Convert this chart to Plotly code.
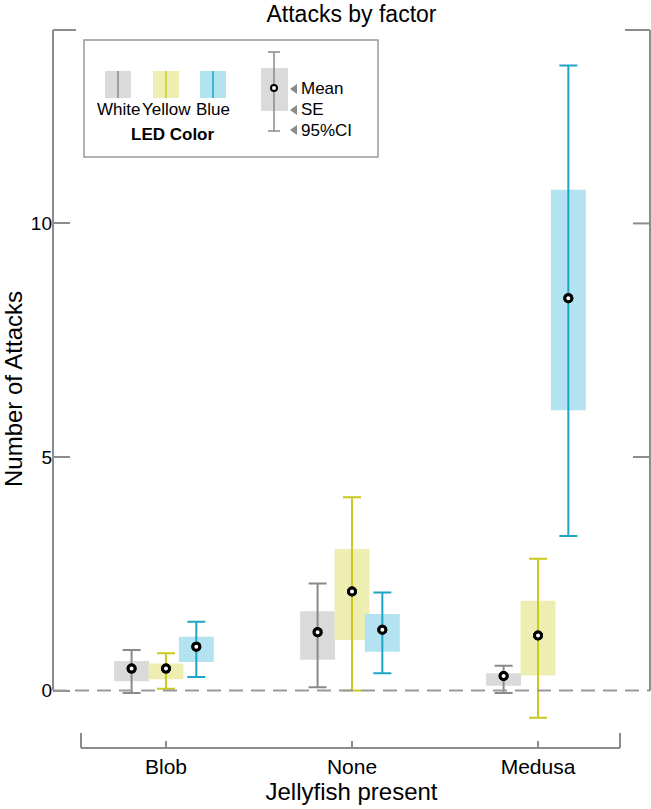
import plotly.graph_objects as go

# ---------------- data ----------------
categories = ["Blob", "None", "Medusa"]
colors_names = ["White", "Yellow", "Blue"]

mean_white = [0.47, 1.25, 0.31]
se_lo_white = [0.20, 0.66, 0.10]
se_hi_white = [0.63, 1.70, 0.37]
ci_lo_white = [-0.05, 0.07, -0.05]
ci_hi_white = [0.87, 2.29, 0.53]

mean_yellow = [0.47, 2.12, 1.18]
se_lo_yellow = [0.24, 1.08, 0.32]
se_hi_yellow = [0.58, 3.03, 1.92]
ci_lo_yellow = [0.04, 0.0, -0.58]
ci_hi_yellow = [0.80, 4.14, 2.82]

mean_blue = [0.94, 1.30, 8.40]
se_lo_blue = [0.61, 0.83, 6.00]
se_hi_blue = [1.15, 1.64, 10.72]
ci_lo_blue = [0.29, 0.37, 3.31]
ci_hi_blue = [1.47, 2.10, 13.38]

y_ticks = [0, 5, 10]

# ---------------- styles ----------------
FONT = "Liberation Sans, Arial, Helvetica, sans-serif"
FRAME = "#8c8c8c"
box_fill = {"White": "#dadada", "Yellow": "#eeeeb2", "Blue": "#b3e3f0"}
line_col = {"White": "#8a8a8a", "Yellow": "#c9c91e", "Blue": "#1ea4c4"}
offsets = {"White": -0.185, "Yellow": 0.0, "Blue": 0.163}
BOXW = 0.188

W, H = 651, 809
L, R, T, B = 53, 1, 30, 61
PW, PH = W - L - R, H - T - B
XR = [-0.6075, 2.602]
YR = [-1.23, 14.14]

def px(p):  # pixel x -> paper
    return (p - L) / PW

def py(p):  # pixel y -> paper
    return (H - B - p) / PH

def vy(v):  # data y -> paper
    return (v - YR[0]) / (YR[1] - YR[0])

series = {
    "White": (mean_white, se_lo_white, se_hi_white, ci_lo_white, ci_hi_white),
    "Yellow": (mean_yellow, se_lo_yellow, se_hi_yellow, ci_lo_yellow, ci_hi_yellow),
    "Blue": (mean_blue, se_lo_blue, se_hi_blue, ci_lo_blue, ci_hi_blue),
}

fig = go.Figure()

for name in colors_names:
    m, slo, shi, clo, chi = series[name]
    xs = [i + offsets[name] for i in range(len(categories))]
    fig.add_trace(go.Bar(
        x=xs, y=[h - l for h, l in zip(shi, slo)], base=slo, width=BOXW,
        marker=dict(color=box_fill[name], line=dict(width=0)),
        showlegend=False, hoverinfo="skip"))

for name in colors_names:
    m, slo, shi, clo, chi = series[name]
    xs = [i + offsets[name] for i in range(len(categories))]
    fig.add_trace(go.Scatter(
        x=xs, y=m, mode="markers",
        marker=dict(size=7, color="white", line=dict(color="black", width=3)),
        error_y=dict(type="data", symmetric=False,
                     array=[h - v for h, v in zip(chi, m)],
                     arrayminus=[v - l for v, l in zip(m, clo)],
                     color=line_col[name], thickness=2, width=9),
        showlegend=False))

for name in colors_names:
    m = series[name][0]
    xs = [i + offsets[name] for i in range(len(categories))]
    fig.add_trace(go.Scatter(
        x=xs, y=m, mode="markers",
        marker=dict(size=7, color="white", line=dict(color="black", width=3)),
        showlegend=False, hoverinfo="skip"))

shapes = []
shapes.append(dict(type="line", xref="paper", yref="paper", x0=0, x1=1, y0=vy(0), y1=vy(0),
                   line=dict(color="#999999", width=2, dash="14px,8px")))
for xp in (0, 1):
    shapes.append(dict(type="line", xref="paper", yref="paper", x0=xp, x1=xp, y0=vy(0), y1=1,
                       line=dict(color=FRAME, width=2)))
shapes.append(dict(type="line", xref="paper", yref="paper", x0=0, x1=px(76), y0=1, y1=1,
                   line=dict(color=FRAME, width=2)))
shapes.append(dict(type="line", xref="paper", yref="paper", x0=px(625), x1=1, y0=1, y1=1,
                   line=dict(color=FRAME, width=2)))
for t in y_ticks[1:]:
    shapes.append(dict(type="line", xref="paper", yref="paper", x0=px(633), x1=1,
                       y0=vy(t), y1=vy(t), line=dict(color=FRAME, width=2)))
shapes.append(dict(type="line", xref="paper", yref="paper", x0=px(81), x1=px(620), y0=0, y1=0,
                   line=dict(color=FRAME, width=2)))
for xx in (81, 620):
    shapes.append(dict(type="line", xref="paper", yref="paper", x0=px(xx), x1=px(xx),
                       y0=0, y1=py(733), line=dict(color=FRAME, width=2)))

# legend box
shapes.append(dict(type="rect", xref="paper", yref="paper", x0=px(84), x1=px(378),
                   y0=py(157), y1=py(40), line=dict(color="#999999", width=1.5),
                   fillcolor="white"))
annotations = []
for name, cx in zip(colors_names, [118, 166, 213]):
    shapes.append(dict(type="rect", xref="paper", yref="paper", x0=px(cx - 13), x1=px(cx + 13),
                       y0=py(98), y1=py(71), line=dict(width=0), fillcolor=box_fill[name]))
    shapes.append(dict(type="line", xref="paper", yref="paper", x0=px(cx), x1=px(cx),
                       y0=py(98), y1=py(71), line=dict(color=line_col[name], width=1.5)))
    annotations.append(dict(xref="paper", yref="paper", x=px(cx), y=py(110), text=name,
                            showarrow=False, font=dict(family=FONT, size=17, color="black"),
                            xanchor="center", yanchor="middle"))
annotations.append(dict(xref="paper", yref="paper", x=px(172), y=py(134), text="<b>LED Color</b>",
                        showarrow=False, font=dict(family=FONT, size=17, color="black"),
                        xanchor="center", yanchor="middle"))
shapes.append(dict(type="rect", xref="paper", yref="paper", x0=px(261), x1=px(288),
                   y0=py(111), y1=py(68), line=dict(width=0), fillcolor=box_fill["White"]))
shapes.append(dict(type="line", xref="paper", yref="paper", x0=px(274), x1=px(274),
                   y0=py(131), y1=py(52), line=dict(color=line_col["White"], width=1.5)))
for yy in (52, 131):
    shapes.append(dict(type="line", xref="paper", yref="paper", x0=px(268), x1=px(280),
                       y0=py(yy), y1=py(yy), line=dict(color=line_col["White"], width=1.5)))
shapes.append(dict(type="circle", xref="paper", yref="paper", x0=px(271), x1=px(277),
                   y0=py(91), y1=py(85), line=dict(color="black", width=2), fillcolor="white"))
for yy, txt in zip((89, 110, 130), ("Mean", "SE", "95%CI")):
    shapes.append(dict(type="path", xref="paper", yref="paper",
                       path=f"M {px(297)} {py(yy-5)} L {px(297)} {py(yy+5)} L {px(290)} {py(yy)} Z",
                       line=dict(width=0), fillcolor="#8a8a8a"))
    annotations.append(dict(xref="paper", yref="paper", x=px(299), y=py(yy), text=txt,
                            showarrow=False, font=dict(family=FONT, size=17, color="black"),
                            xanchor="left", yanchor="middle"))

fig.update_layout(
    width=W, height=H,
    margin=dict(l=L, r=R, t=T, b=B, pad=0),
    plot_bgcolor="white", paper_bgcolor="white",
    barmode="overlay",
    showlegend=False,
    title=dict(text="Attacks by factor", x=(L + PW / 2) / W, xanchor="center",
               y=1 - 14 / H, yanchor="middle", yref="container",
               font=dict(family=FONT, size=23, color="black")),
    xaxis=dict(range=XR, tickvals=[0, 1, 2], ticktext=categories,
               showgrid=False, zeroline=False, showline=False,
               ticks="inside", ticklen=7, tickwidth=2, tickcolor=FRAME,
               ticklabelstandoff=4,
               tickfont=dict(family=FONT, size=21, color="black"),
               title=dict(text="Jellyfish present", standoff=4,
                          font=dict(family=FONT, size=24, color="black")),
               automargin=False, fixedrange=True),
    yaxis=dict(range=YR, tickvals=y_ticks, ticktext=[str(t) for t in y_ticks],
               showgrid=False, zeroline=False, showline=False,
               ticks="inside", ticklen=17, tickwidth=2, tickcolor=FRAME,
               tickfont=dict(family=FONT, size=19, color="black"),
               title=dict(text="Number of Attacks", standoff=3,
                          font=dict(family=FONT, size=24, color="black")),
               automargin=False, fixedrange=True),
    shapes=shapes,
    annotations=annotations,
)

fig.write_html("out.html", config={"displayModeBar": False},
               post_script="document.body.style.margin='0px';")
